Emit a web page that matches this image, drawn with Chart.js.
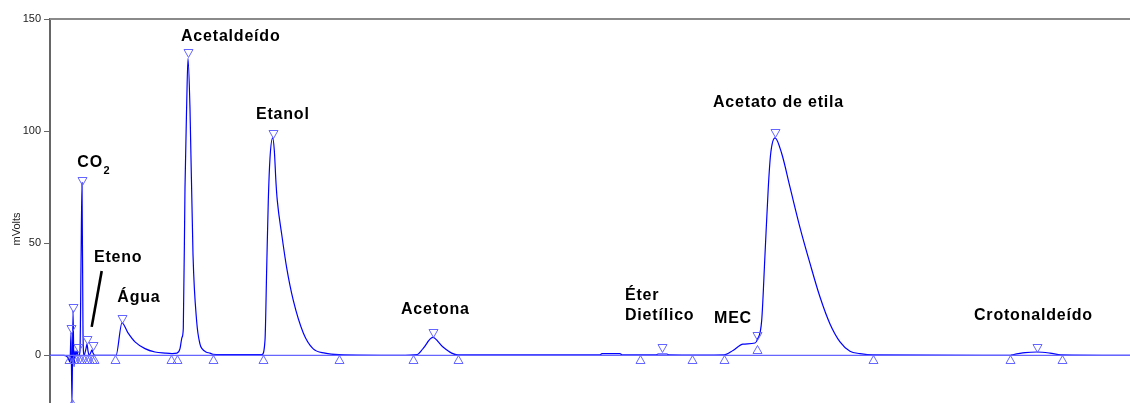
<!DOCTYPE html>
<html><head><meta charset="utf-8">
<script src="https://cdn.jsdelivr.net/npm/chart.js@4"></script>
<style>html,body{margin:0;padding:0;background:#fff;overflow:hidden;height:403px}</style>
</head><body>
<canvas id="c" width="1130" height="413"></canvas>
<script>
// Chromatogram trace (time in arbitrary run units, signal in mVolts)
const traceTime = [0,14,18,20,21,22,23,24,25,26,27,28,29,30,31,32,33,34,36,37,38,39,41,42,43,45,
  66,72,78,85,95,105,115,122,127,130,132,133.3,135,136.7,138,140,143,146.7,150,152,156,160,163,180,
  212,215,216.7,218.3,220,222.7,224.3,226,227.3,231.7,236.7,243.3,253.3,263,275,289,350,
  366.7,373,382.7,393,401.7,408,550,552,570,572,606,608,617,619,650,
  674,683,693,705,707.3,711.7,715,718.3,720.7,725,731.7,740,750,760,770,780,790,800,810,823,
  960,962,975,987,1000,1011,1080];
const traceSignal = [0,0,-1,-3,10,-22,20,-5,2,0,2,0,0,2,40,77,10,0,3,5,2,0,1.5,2.5,1,0,
  0,14.5,10,6,3,1.5,1,0.8,1,3,8,12,75,112,132.5,110,45,15,5,3,1.5,1,0.5,0.3,
  0.3,6.7,39,69,88,97,91.5,77,69,54,39,24.5,10,3,1,0.3,0,
  0.3,3,8,3.7,1,0.2,0.2,0.8,0.8,0.2,0.2,0.6,0.6,0.2,0.1,
  0.2,2.2,5,5.5,7,15.6,45,75,90,97,90,75,57,41,26,14,6,1.8,0.8,0.2,
  0,0.2,1.2,1.5,1,0.2,0];
// Peak apex markers
const peakTime = [21,23.3,27.7,32.3,37.3,42.7,72,137.5,222.7,382.7,611.7,707.3,725,986.7];
const peakHeight = [9.8,19.3,1.5,76,4.9,2.2,14.4,133,97,8.2,1.5,7,97.5,1.6];
// Integration start/end markers
const cutTime = [19,22,24,26,28.5,31,34,36.5,39,41.5,44,65,121,127.3,162.7,212.7,289,362.7,407.7,590,641.7,674,707.3,822.7,960,1011.7];
const cutLevel = [0,-19.5,0,0,0,0,0,0,0,0,0,0,0,0,0,0,0,0,0,0,0,0,4.5,0,0,0];
// Axis ticks
const yTicks = [0,50,100,150];
// Compound labels
const compoundNames = ['Acetaldeído','Etanol','CO₂','Eteno','Água','Acetona','Éter\nDietílico','MEC','Acetato de etila','Crotonaldeído'];
const compoundLabelTime = [131,206,27.3,44,67.3,351,575,664,663,924];
const compoundLabelLevel = [140.2,105.2,84.1,41.7,23.7,18.3,24.9,14.6,110.7,15.6];
// Eteno pointer
const pointerTime = [51.7,41.7];
const pointerLevel = [37.6,12.7];

const FONT = '"Liberation Sans", Arial, sans-serif';

const deco = {
  id: 'deco',
  beforeDatasetsDraw(chart) {
    const {ctx, chartArea:a} = chart;
    ctx.save();
    ctx.strokeStyle = '#8a8a8a'; ctx.lineWidth = 2;
    ctx.beginPath(); ctx.moveTo(a.left, a.top); ctx.lineTo(a.right, a.top); ctx.stroke();
    ctx.restore();
  },
  afterDatasetsDraw(chart) {
    const {ctx, scales:{x, y}} = chart;
    ctx.save();
    ctx.beginPath();
    ctx.rect(chart.chartArea.left, chart.chartArea.top, chart.chartArea.width, chart.chartArea.height);
    ctx.clip();
    ctx.strokeStyle = '#6464ff'; ctx.lineWidth = 1;
    const w = 4.5, h = 8;
    peakTime.forEach((t, i) => {
      const px = Math.round(x.getPixelForValue(t)) + 0.5, py = Math.round(y.getPixelForValue(peakHeight[i])) + 0.5;
      ctx.beginPath(); ctx.moveTo(px, py); ctx.lineTo(px - w, py - h); ctx.lineTo(px + w, py - h); ctx.closePath(); ctx.stroke();
    });
    cutTime.forEach((t, i) => {
      const px = Math.round(x.getPixelForValue(t)) + 0.5, py = Math.round(y.getPixelForValue(cutLevel[i])) + 0.5;
      ctx.beginPath(); ctx.moveTo(px, py); ctx.lineTo(px - w, py + h); ctx.lineTo(px + w, py + h); ctx.closePath(); ctx.stroke();
    });
    ctx.restore();
  },
  afterDraw(chart) {
    const {ctx, scales:{x, y}} = chart;
    ctx.save();
    ctx.fillStyle = '#222'; ctx.font = '11px ' + FONT;
    ctx.translate(16.5, 229); ctx.rotate(-Math.PI/2);
    ctx.textAlign = 'center'; ctx.textBaseline = 'middle';
    ctx.fillText('mVolts', 0, 0);
    ctx.restore();

    ctx.save();
    ctx.fillStyle = '#000'; ctx.font = 'bold 16px ' + FONT;
    if ('letterSpacing' in ctx) ctx.letterSpacing = '0.8px';
    ctx.textAlign = 'left'; ctx.textBaseline = 'alphabetic';
    compoundNames.forEach((name, i) => {
      const px = x.getPixelForValue(compoundLabelTime[i]);
      let py = y.getPixelForValue(compoundLabelLevel[i]);
      name.split('\n').forEach((line, k) => {
        const lp = py + k * 20.7;
        if (line.includes('₂')) {
          const base = line.replace('₂', '');
          ctx.font = 'bold 16px ' + FONT;
          ctx.fillText(base, px, lp);
          const wBase = ctx.measureText(base).width;
          ctx.font = 'bold 11px ' + FONT;
          ctx.fillText('2', px + wBase + 0.5, lp + 7);
          ctx.font = 'bold 16px ' + FONT;
        } else {
          ctx.fillText(line, px, lp);
        }
      });
    });
    ctx.strokeStyle = '#000'; ctx.lineWidth = 2.6; ctx.lineCap = 'butt';
    ctx.beginPath();
    ctx.moveTo(x.getPixelForValue(pointerTime[0]), y.getPixelForValue(pointerLevel[0]));
    ctx.lineTo(x.getPixelForValue(pointerTime[1]), y.getPixelForValue(pointerLevel[1]));
    ctx.stroke();
    ctx.restore();
  }
};

new Chart(document.getElementById('c'), {
  type: 'line',
  data: {
    datasets: [
      {
        label: 'Linha de base',
        data: [{x: traceTime[0], y: 0}, {x: traceTime[traceTime.length - 1], y: 0}],
        borderColor: '#6666ff', borderWidth: 1.3, pointRadius: 0, order: 0
      },
      {
        label: 'Sinal',
        data: traceTime.map((t, i) => ({x: t, y: traceSignal[i]})),
        borderColor: '#0000ff', borderWidth: 1.2, pointRadius: 0,
        cubicInterpolationMode: 'monotone', order: 1
      }
    ]
  },
  options: {
    responsive: false, animation: false,
    layout: {padding: {top: 19, left: 0, right: 0, bottom: 0}},
    plugins: {legend: {display: false}, tooltip: {enabled: false}},
    scales: {
      x: {type: 'linear', min: 0, max: 1080, display: false},
      y: {
        type: 'linear', min: -21.43, max: 150,
        afterBuildTicks: s => { s.ticks = yTicks.map(v => ({value: v})); },
        afterFit: s => { s.width = 50; },
        grid: {drawOnChartArea: false, tickLength: 6, color: '#666'},
        border: {color: '#666', width: 2},
        ticks: {color: '#222', font: {size: 11, family: FONT}, padding: 3}
      }
    }
  },
  plugins: [deco]
});
</script>
</body></html>
